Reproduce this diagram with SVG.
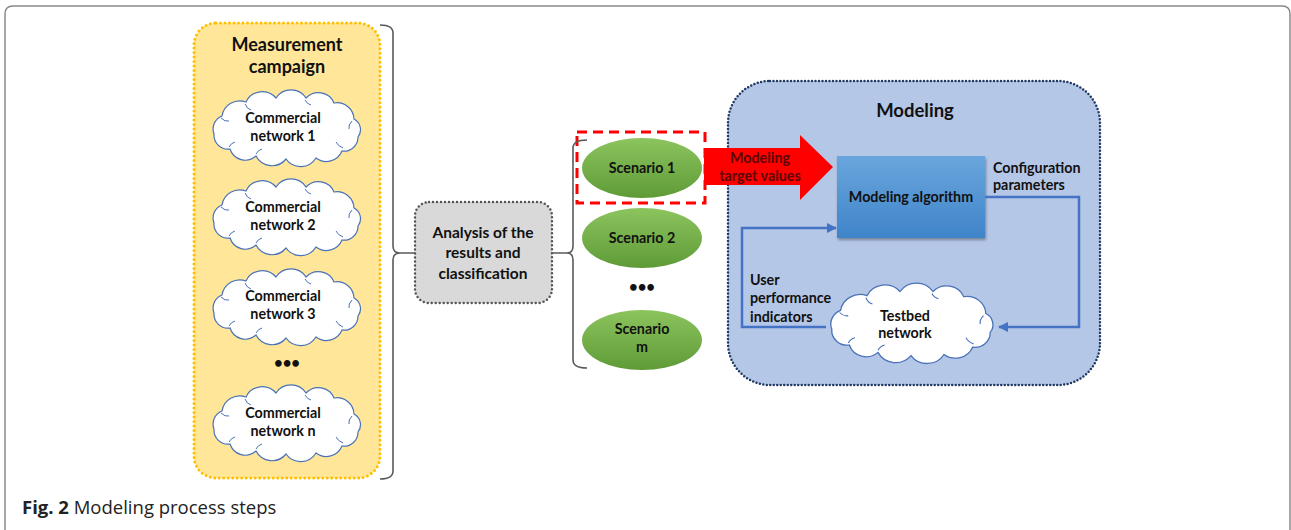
<svg xmlns="http://www.w3.org/2000/svg" width="1291" height="530" viewBox="0 0 1291 530">
  <style>
    .lbl { font-family: Lato, "Liberation Sans", sans-serif; font-weight: bold; fill: #111; text-anchor: middle; }
    .lbl.s { font-size: 14.3px; }
    .left { text-anchor: start; }
    .cloud { fill: #fff; stroke: #4a72b8; stroke-width: 1.2; }
    .curl { fill: none; stroke: #4a72b8; stroke-width: 1; }
    .brace { fill: none; stroke: #5a5a5a; stroke-width: 1.6; }
    .flow { fill: none; stroke: #4472c4; stroke-width: 2.5; }
    .target { fill: #5c0606; }
  </style>
  <defs>
    <g id="cloudShape">
      <path class="cloud" d="M-72,6 A14,14 0 0 1 -64,-12 A18,18 0 0 1 -40,-26 A18,18 0 0 1 -10,-30 A18,18 0 0 1 20,-30 A17,17 0 0 1 48,-25 A17,17 0 0 1 68,-9 A12,12 0 0 1 72,9 A14,14 0 0 1 56,23 A17,17 0 0 1 30,30 A18,18 0 0 1 0,31 A18,18 0 0 1 -30,28 A16,16 0 0 1 -56,21 A14,14 0 0 1 -72,6 Z"/>
      <!-- inner curls where the puffs meet -->
      <path class="curl" d="M-65,-10 Q-61,-6 -57,-7 M-41,-24 Q-39,-19 -35,-18 M19,-28 Q21,-24 25,-23 M66,-7 Q62,-3 63,1 M57,20 Q52,18 50,14 M-30,26 Q-28,22 -24,21 M-57,19 Q-55,15 -51,14"/>
    </g>
    <linearGradient id="greenFill" x1="0" y1="0" x2="0" y2="1">
      <stop offset="0" stop-color="#8cc45e"/>
      <stop offset="1" stop-color="#5e9b37"/>
    </linearGradient>
    <linearGradient id="algoFill" x1="0" y1="0" x2="0" y2="1">
      <stop offset="0" stop-color="#6aa6dd"/>
      <stop offset="1" stop-color="#3f84c9"/>
    </linearGradient>
    <filter id="shadow" x="-10%" y="-10%" width="130%" height="140%">
      <feDropShadow dx="1" dy="2" stdDeviation="1.5" flood-color="#000" flood-opacity="0.35"/>
    </filter>
    <marker id="arrowBlue" viewBox="0 0 10 10" refX="9" refY="5" markerWidth="4" markerHeight="4" orient="auto">
      <path d="M0,0 L10,5 L0,10 Z" fill="#4472c4"/>
    </marker>
  </defs>

  <!-- figure frame -->
  <path d="M5,530 V14 Q5,6 13,6 H1282 Q1290,6 1290,14 V530" fill="none" stroke="#8a8a8a" stroke-width="1.5"/>

  <!-- measurement campaign panel -->
  <g id="measurement">
    <rect x="194" y="23" width="186" height="455" rx="22" fill="#ffe699" stroke="#ffc000" stroke-width="3" stroke-dasharray="0 4.5" stroke-linecap="round"/>
    <text class="lbl" x="287" y="51" font-size="18">Measurement</text>
    <text class="lbl" x="287" y="73" font-size="18">campaign</text>
  </g>
  <g id="net1">
    <use href="#cloudShape" transform="translate(286,128)"/>
    <text class="lbl s" x="283" y="123">Commercial</text>
    <text class="lbl s" x="283" y="141">network 1</text>
  </g>
  <g id="net2">
    <use href="#cloudShape" transform="translate(286,217)"/>
    <text class="lbl s" x="283" y="212">Commercial</text>
    <text class="lbl s" x="283" y="230">network 2</text>
  </g>
  <g id="net3">
    <use href="#cloudShape" transform="translate(286,307)"/>
    <text class="lbl s" x="283" y="301">Commercial</text>
    <text class="lbl s" x="283" y="319">network 3</text>
  </g>
  <g id="netDots">
    <text class="lbl" x="287" y="368" font-size="15">•••</text>
  </g>
  <g id="netN">
    <use href="#cloudShape" transform="translate(286,423)"/>
    <text class="lbl s" x="283" y="418">Commercial</text>
    <text class="lbl s" x="283" y="436">network n</text>
  </g>

  <!-- analysis -->
  <g id="analysis">
    <rect x="415" y="202" width="137" height="101" rx="14" fill="#d9d9d9" stroke="#555" stroke-width="2.5" stroke-dasharray="0 4" stroke-linecap="round"/>
    <text class="lbl" x="483" y="238" font-size="15.5">Analysis of the</text>
    <text class="lbl" x="483" y="258" font-size="15.5">results and</text>
    <text class="lbl" x="483" y="279" font-size="15.5">classification</text>
  </g>

  <!-- scenarios -->
  <g id="scenario1">
    <ellipse cx="642" cy="168" rx="60" ry="30" fill="url(#greenFill)"/>
    <text class="lbl s" x="642" y="173">Scenario 1</text>
  </g>
  <g id="scenario2">
    <ellipse cx="642" cy="238" rx="60" ry="30" fill="url(#greenFill)"/>
    <text class="lbl s" x="642" y="243">Scenario 2</text>
  </g>
  <g id="scenarioDots">
    <text class="lbl" x="642" y="292" font-size="15">•••</text>
  </g>
  <g id="scenarioM">
    <ellipse cx="642" cy="340" rx="60" ry="30" fill="url(#greenFill)"/>
    <text class="lbl s" x="642" y="334">Scenario</text>
    <text class="lbl s" x="642" y="352">m</text>
  </g>
  <g id="selection">
    <rect x="577" y="132" width="128" height="71" fill="none" stroke="#ff0000" stroke-width="3" stroke-dasharray="10 6"/>
  </g>

  <!-- modeling panel -->
  <g id="modeling">
    <rect x="728" y="81" width="372" height="304" rx="42" fill="#b4c7e7" stroke="#1f3864" stroke-width="2.5" stroke-dasharray="0 3.5" stroke-linecap="round"/>
    <text class="lbl" x="915" y="117" font-size="18.5">Modeling</text>
  </g>
  <g id="algorithm">
    <rect x="837" y="156" width="148" height="82" fill="url(#algoFill)" filter="url(#shadow)"/>
    <text class="lbl s" x="911" y="202">Modeling algorithm</text>
  </g>
  <g id="testbed">
    <use href="#cloudShape" transform="translate(911,323) scale(1.1,1.05)"/>
    <text class="lbl s" x="905" y="321">Testbed</text>
    <text class="lbl s" x="905" y="338">network</text>
  </g>

  <!-- connectors -->
  <g id="connectors">
    <path class="brace" d="M380,25 Q393,25 393,33 V246 Q393,253 400,253 Q393,253 393,260 V471 Q393,479 380,479 M400,253 H415"/>
    <path class="brace" d="M587,140 Q573,140 573,148 V246 Q573,253 567,253 Q573,253 573,260 V360 Q573,368 587,368 M552,253 H567"/>
    <polygon points="704,148 800,148 800,135 833,167 800,200 800,185 704,185" fill="#ff0000"/>
    <text class="lbl s target" x="760" y="163">Modeling</text>
    <text class="lbl s target" x="760" y="181">target values</text>
    <path class="flow" d="M985,197 H1079 V327 H999" marker-end="url(#arrowBlue)"/>
    <path class="flow" d="M826,327 H742 V228 H836" marker-end="url(#arrowBlue)"/>
    <text class="lbl s left" x="993" y="173">Configuration</text>
    <text class="lbl s left" x="993" y="190">parameters</text>
    <text class="lbl s left" x="750" y="285">User</text>
    <text class="lbl s left" x="750" y="303">performance</text>
    <text class="lbl s left" x="750" y="322">indicators</text>
  </g>

  <!-- caption -->
  <text x="22" y="514" font-family="'Open Sans', 'Liberation Sans', sans-serif" font-size="18.5" fill="#222"><tspan font-weight="bold">Fig. 2</tspan> Modeling process steps</text>
</svg>
